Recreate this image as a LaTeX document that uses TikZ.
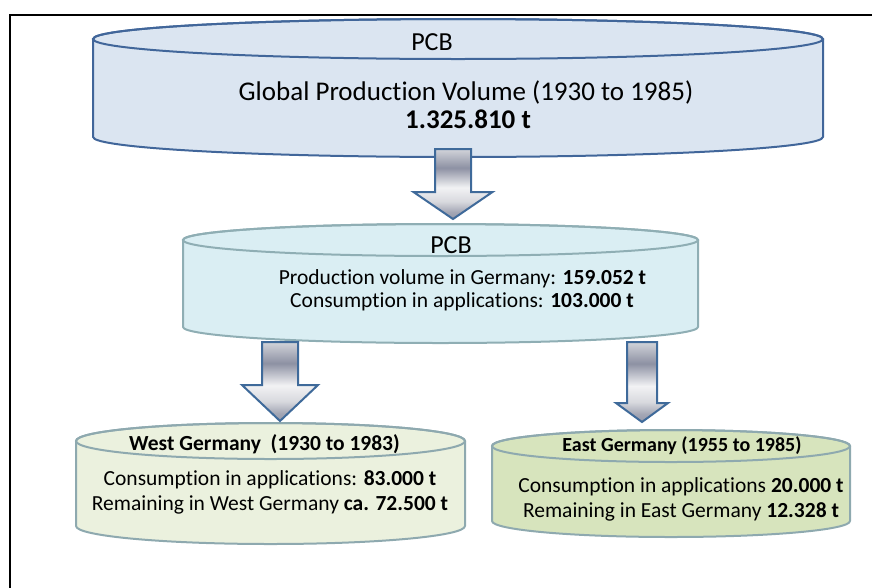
\documentclass[tikz,border=0pt]{standalone}
\usepackage{fontspec}
\setmainfont{Carlito}[Ligatures={NoCommon}]
\usetikzlibrary{calc}
\definecolor{topfill}{HTML}{DBE5F1}
\definecolor{topline}{HTML}{41669A}
\definecolor{midfill}{HTML}{DAEEF3}
\definecolor{midline}{HTML}{8FAEB4}
\definecolor{westfill}{HTML}{EBF1DE}
\definecolor{eastfill}{HTML}{D7E4BD}
\definecolor{lowline}{HTML}{8EA9AF}
\definecolor{arrline}{HTML}{3F6A9A}
\definecolor{mA}{HTML}{D2D4DA}
\definecolor{mB}{HTML}{8D91A3}
\definecolor{mC}{HTML}{F2F2F4}
\definecolor{mD}{HTML}{D8D9DE}
\definecolor{mE}{HTML}{A4A7B5}
\definecolor{mF}{HTML}{9498A9}
\pgfdeclareverticalshading{metal}{100bp}{color(0bp)=(mF); color(25bp)=(mF); color(30bp)=(mE); color(37.5bp)=(mD); color(47.5bp)=(mC); color(61.5bp)=(mB); color(75bp)=(mA); color(100bp)=(mA)}
\newcommand{\cylshape}[7]{%
  \pgfmathsetmacro\cylL{#1-#4}\pgfmathsetmacro\cylR{#1+#4}%
  \pgfmathsetmacro\cylkx{0.5523*#4}\pgfmathsetmacro\cylky{0.5523*#5}%
  \filldraw[fill=#6,draw=#7,line width=2pt,line join=round]
    (\cylL,#2) -- (\cylL,#3)
    .. controls (\cylL,#3+\cylky) and (#1-\cylkx,#3+#5) .. (#1,#3+#5)
    .. controls (#1+\cylkx,#3+#5) and (\cylR,#3+\cylky) .. (\cylR,#3)
    -- (\cylR,#2)
    .. controls (\cylR,#2-\cylky) and (#1+\cylkx,#2-#5) .. (#1,#2-#5)
    .. controls (#1-\cylkx,#2-#5) and (\cylL,#2-\cylky) .. (\cylL,#2) -- cycle;
  \draw[draw=#7,line width=2pt] (#1,#2) ellipse [x radius=#4, y radius=#5];
}
\newcommand{\blockarr}[5]{%
  \path[blockarrow] let \p1=(#1), \p2=(#2) in
    (\x2-#3pt,\y1) -- (\x2+#3pt,\y1) -- (\x2+#3pt,\y2+#5pt) -- (\x2+#4pt,\y2+#5pt)
    -- (\x2,\y2) -- (\x2-#4pt,\y2+#5pt) -- (\x2-#3pt,\y2+#5pt) -- cycle;
}
\tikzset{
  blockarrow/.style={draw=arrline,line width=2pt,line join=miter,shade,shading=metal},
  bigtext/.style={font=\fontsize{27}{31}\selectfont,inner sep=0pt,anchor=base},
  pcbtext/.style={font=\fontsize{26}{30}\selectfont,inner sep=0pt,anchor=base},
  bodytext/.style={font=\fontsize{21.5}{25}\selectfont,inner sep=0pt,anchor=base},
  westtitle/.style={font=\fontsize{21.5}{25}\selectfont\bfseries,inner sep=0pt,anchor=base},
  easttitle/.style={font=\fontsize{20}{24}\selectfont\bfseries,inner sep=0pt,anchor=base},
  area/.style={inner sep=0pt,draw=none}
}
\begin{document}
\begin{tikzpicture}[x=1pt,y=-1pt]
\useasboundingbox (0,0) rectangle (872,587);
% frame
\draw[line width=2pt] (10,588) -- (10,15) -- (873,15);
% cylinders
\cylshape{458}{39}{137}{365}{20}{topfill}{topline}
\cylshape{440.5}{240}{327}{257.5}{16}{midfill}{midline}
\cylshape{270.5}{441}{526}{194.5}{18}{westfill}{lowline}
\cylshape{671}{446}{521}{179}{16}{eastfill}{lowline}
\node[area,minimum width=730pt,minimum height=138pt] (pcbglobal) at (458,88) {};
\node[area,minimum width=515pt,minimum height=119pt] (pcbgermany) at (440.5,283.5) {};
\node[area,minimum width=389pt,minimum height=122pt] (west) at (270.5,484) {};
\node[area,minimum width=358pt,minimum height=107pt] (east) at (671,483.5) {};
% arrows
\coordinate (a1s) at (453,149);
\coordinate (a1e) at (453,219);
\coordinate (a2s) at (280,342);
\coordinate (a2e) at (280,421);
\coordinate (a3s) at (642,342);
\coordinate (a3e) at (642,422);
\blockarr{a1s}{a1e}{18}{39.5}{27}
\blockarr{a2s}{a2e}{18}{38}{36}
\blockarr{a3s}{a3e}{15}{26}{19}
% texts
\node[pcbtext] (t1) at (432,50) {PCB};
\node[bigtext] (t2) at (466,100) {Global Production Volume (1930 to 1985)};
\node[bigtext,font=\fontsize{27}{31}\selectfont\bfseries] (t3) at (468,128) {1.325.810 t};
\node[pcbtext] (m1) at (451,253) {PCB};
\node[bodytext] (m2) at (462.5,284) {Production volume in Germany: \textbf{159.052 t}};
\node[bodytext] (m3) at (462,307) {Consumption in applications: \textbf{103.000 t}};
\node[westtitle] (w1) at (264.5,450) {West Germany~~(1930 to 1983)};
\node[bodytext] (w2) at (270,485) {Consumption in applications: \textbf{83.000 t}};
\node[bodytext] (w3) at (270,510) {Remaining in West Germany \textbf{ca. 72.500 t}};
\node[easttitle] (e1) at (682,451) {East Germany (1955 to 1985)};
\node[bodytext] (e2) at (681,492) {Consumption in applications \textbf{20.000 t}};
\node[bodytext] (e3) at (681,517) {Remaining in East Germany \textbf{12.328 t}};
\end{tikzpicture}
\end{document}
